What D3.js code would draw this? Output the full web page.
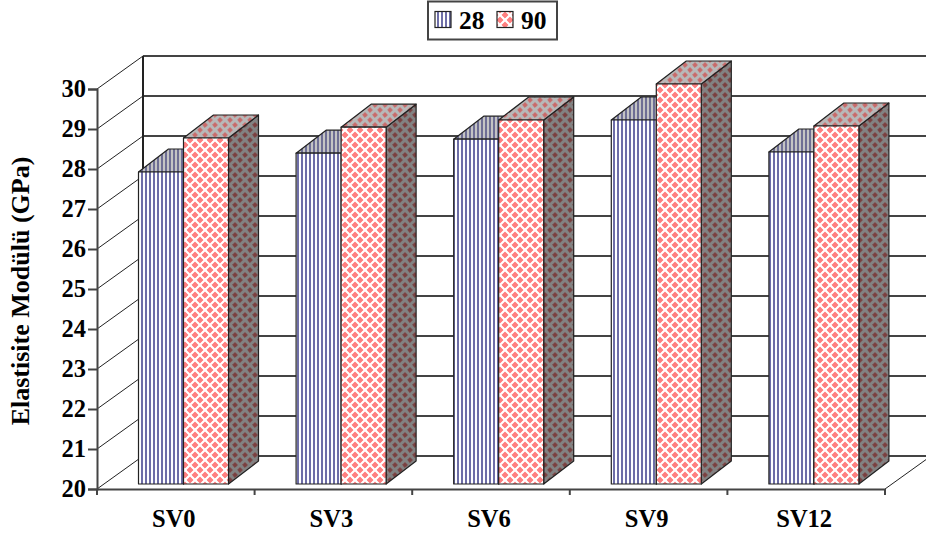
<!DOCTYPE html>
<html><head><meta charset="utf-8">
<script src="https://cdn.jsdelivr.net/npm/d3@7/dist/d3.min.js"></script>
<style>html,body{margin:0;padding:0;background:#fff}svg{display:block}
text{font-family:"Liberation Serif",serif;font-weight:bold;fill:#000}</style></head>
<body><svg id="c" width="926" height="540"></svg>
<script>
const categories = ["SV0","SV3","SV6","SV9","SV12"];
const seriesNames = ["28","90"];
const series28 = [27.8,28.27,28.62,29.1,28.3];
const series90 = [28.65,28.92,29.1,30.0,28.95];
const yTicks = [20,21,22,23,24,25,26,27,28,29,30];

const svg = d3.select("#c");
const x = d3.scaleBand().domain(categories).range([97,885]);
const y = d3.scaleLinear().domain([20,30]).range([489,89]);
const inner = d3.scaleBand().domain(seriesNames).range([41.5,131.5]);
const wall = {dx:46,dy:-33};
const depth = {dx:30,dy:-23};
const lift = -5;

const defs = svg.append("defs");
function stripes(id,bg,fg){
  const p = defs.append("pattern").attr("id",id).attr("patternUnits","userSpaceOnUse").attr("width",4).attr("height",4);
  p.append("rect").attr("width",4).attr("height",4).attr("fill",bg);
  p.append("rect").attr("x",1).attr("width",2).attr("height",4).attr("fill",fg);
}
function diamonds(id,bg,fg,r,s){
  const p = defs.append("pattern").attr("id",id).attr("patternUnits","userSpaceOnUse").attr("width",s).attr("height",s);
  p.append("rect").attr("width",s).attr("height",s).attr("fill",bg);
  [[0,0],[s,0],[0,s],[s,s],[s/2,s/2]].forEach(([a,b])=>{
    p.append("path").attr("d",`M${a-r},${b}L${a},${b-r}L${a+r},${b}L${a},${b+r}Z`).attr("fill",fg)
      .attr("stroke",fg).attr("stroke-width",0.9).attr("stroke-linejoin","round");
  });
}
stripes("p28","#ffffff","#6e6ea8");
stripes("p28top","#c4c4c4","#6e6e94");
diamonds("p90","#ffffff","#ff8080",3.1,10);
diamonds("p90top","#b8b8b8","#c86a6a",2.4,10);
diamonds("p90side","#828282","#7a4040",2.4,10);

// back wall and floor
const gridG = svg.append("g");
yTicks.forEach(t=>{
  gridG.append("line").attr("x1",97+wall.dx).attr("x2",97+788+wall.dx)
    .attr("y1",y(t)+wall.dy).attr("y2",y(t)+wall.dy).attr("stroke","#444").attr("stroke-width",2);
  gridG.append("line").attr("x1",97).attr("x2",97+wall.dx)
    .attr("y1",y(t)).attr("y2",y(t)+wall.dy).attr("stroke","#222").attr("stroke-width",1);
});
gridG.append("line").attr("x1",97+wall.dx).attr("x2",97+wall.dx)
  .attr("y1",y(20)+wall.dy).attr("y2",y(30)+wall.dy).attr("stroke","#222").attr("stroke-width",2);
gridG.append("line").attr("x1",885).attr("x2",885+wall.dx)
  .attr("y1",y(20)).attr("y2",y(20)+wall.dy).attr("stroke","#222").attr("stroke-width",1);

// bars
function bar(cat,name,v,front,top,side){
  const x0 = x(cat)+inner(name), w = inner.bandwidth();
  const yt = y(v)+lift, yb = y(20)+lift;
  const g = svg.append("g").attr("stroke","#222").attr("stroke-width",1.2).attr("stroke-linejoin","round");
  const poly = pts => pts.map(p=>p.join(",")).join(" ");
  g.append("polygon").attr("fill",`url(#${side})`).attr("points",poly([[x0+w,yt],[x0+w+depth.dx,yt+depth.dy],[x0+w+depth.dx,yb+depth.dy],[x0+w,yb]]));
  g.append("polygon").attr("fill",`url(#${top})`).attr("points",poly([[x0,yt],[x0+depth.dx,yt+depth.dy],[x0+w+depth.dx,yt+depth.dy],[x0+w,yt]]));
  g.append("rect").attr("x",x0).attr("y",yt).attr("width",w).attr("height",yb-yt).attr("fill",`url(#${front})`);
}
categories.forEach((c,i)=>{
  bar(c,"28",series28[i],"p28","p28top","p28");
  bar(c,"90",series90[i],"p90","p90top","p90side");
});

// axes
const yAxis = d3.axisLeft(y).tickValues(yTicks).tickSize(9).tickPadding(2).tickFormat(d3.format("d"));
const yg = svg.append("g").attr("transform","translate(97,0)").call(yAxis);
const xAxis = d3.axisBottom(x).tickSize(0).tickPadding(18);
const xg = svg.append("g").attr("transform","translate(0,489)").call(xAxis);
[yg,xg].forEach(g=>{
  g.selectAll("text").style("font-size","24.5px").attr("fill","#000");
  g.selectAll("path.domain").attr("stroke","#444").attr("stroke-width",2);
  g.selectAll("line").attr("stroke","#444").attr("stroke-width",2);
});
xg.selectAll("text").attr("dx",-2).attr("dy","0.8em");
const xTickG = svg.append("g");
d3.range(0,6).map(i=>97+i*x.step()).forEach(px=>{
  xTickG.append("line").attr("x1",px).attr("x2",px).attr("y1",489).attr("y2",495).attr("stroke","#444").attr("stroke-width",2);
});

// y title
svg.append("text").attr("transform","translate(29,291) rotate(-90)").attr("text-anchor","middle")
  .style("font-size","26px").text("Elastisite Modülü (GPa)");

// legend
const lg = svg.append("g");
lg.append("rect").attr("x",428).attr("y",1.5).attr("width",129).attr("height",38).attr("fill","#fff").attr("stroke","#444").attr("stroke-width",2);
const lx = d3.scalePoint().domain(seriesNames).range([435,497]);
seriesNames.forEach((n,i)=>{
  lg.append("rect").attr("x",lx(n)).attr("y",11.5).attr("width",16).attr("height",16)
    .attr("fill",i?"url(#p90)":"url(#p28)").attr("stroke","#222").attr("stroke-width",1.2);
  lg.append("text").attr("x",lx(n)+24).attr("y",29).style("font-size","25.5px").text(n);
});
</script></body></html>
